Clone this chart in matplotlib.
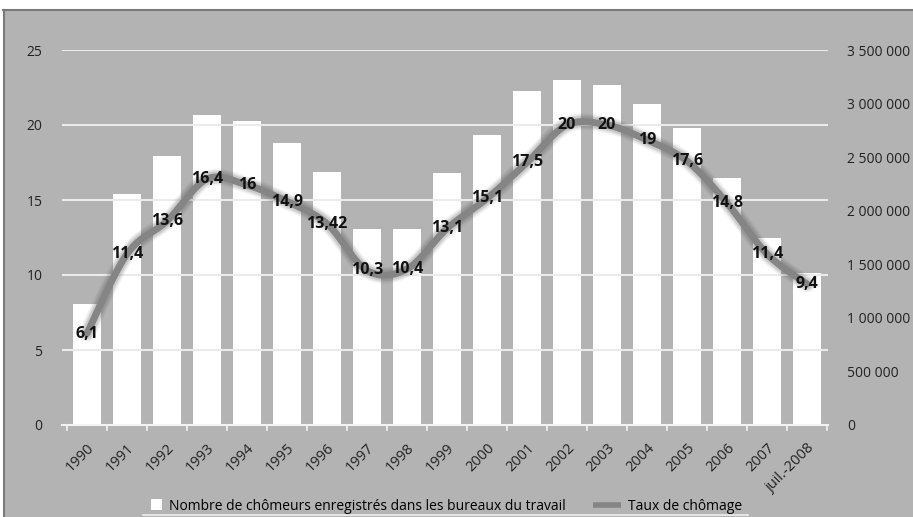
import numpy as np
import matplotlib.pyplot as plt
from matplotlib.lines import Line2D
from matplotlib.patches import Rectangle
from matplotlib.ticker import FuncFormatter
from matplotlib.legend_handler import HandlerPatch

years = ["1990", "1991", "1992", "1993", "1994", "1995", "1996", "1997", "1998", "1999",
         "2000", "2001", "2002", "2003", "2004", "2005", "2006", "2007", "juil.-2008"]
chomeurs = [1126100, 2155600, 2509300, 2889600, 2838000, 2628800, 2359500, 1826400, 1831400,
            2349800, 2702600, 3115100, 3217000, 3175700, 2999600, 2773000, 2309400, 1746600, 1420000]
taux = [6.1, 11.4, 13.6, 16.4, 16, 14.9, 13.42, 10.3, 10.4, 13.1,
        15.1, 17.5, 20, 20, 19, 17.6, 14.8, 11.4, 9.4]
taux_labels = ["6,1", "11,4", "13,6", "16,4", "16", "14,9", "13,42", "10,3", "10,4", "13,1",
               "15,1", "17,5", "20", "20", "19", "17,6", "14,8", "11,4", "9,4"]

bg = "#b3b3b3"
plt.rcParams['font.family'] = ['Open Sans', 'DejaVu Sans']

W, H = 913, 517
fig = plt.figure(figsize=(W / 100, H / 100), dpi=100, facecolor=bg)

# white strip at top and left edge, plus dark border of the panel
fig.add_artist(Rectangle((0, 1 - 9 / H), 1, 9 / H, transform=fig.transFigure, color="white", zorder=0))
fig.add_artist(Rectangle((0, 0), 3 / W, 1, transform=fig.transFigure, color="white", zorder=0))
fig.add_artist(Line2D([3 / W, 1], [1 - 10 / H, 1 - 10 / H], transform=fig.transFigure, color="#7a7a7a", lw=1.5))
fig.add_artist(Line2D([4 / W, 4 / W], [0, 1 - 10 / H], transform=fig.transFigure, color="#7a7a7a", lw=1.5))

ax = fig.add_axes([62 / W, 1 - 425 / H, (828 - 62) / W, (425 - 50) / H])
ax2 = ax.twinx()

x = np.arange(len(years))

# bars on the right axis
ax2.bar(x, chomeurs, width=0.68, color="white", zorder=2)
ax2.set_ylim(0, 3500000)
ax2.set_yticks(np.arange(0, 3500001, 500000))
ax2.yaxis.set_major_formatter(FuncFormatter(lambda v, p: f"{int(v):,}".replace(",", " ")))
ax2.tick_params(axis="y", length=0, pad=14, labelsize=10, labelcolor="#222222")

# gridlines on the left axis
ax.set_ylim(0, 25)
ax.set_yticks([0, 5, 10, 15, 20, 25])
ax.set_xlim(-0.625, len(years) - 0.475)
for v in [5, 10, 15, 20, 25]:
    ax.axhline(v, color="#ebebeb", lw=1.5, zorder=0)
ax.tick_params(axis="y", length=0, pad=14, labelsize=10, labelcolor="#222222")
for a in (ax, ax2):
    for s in a.spines.values():
        s.set_visible(False)
ax.set_zorder(ax2.get_zorder() + 1)
ax.patch.set_visible(False)
ax2.patch.set_visible(False)

# x axis line and ticks at category boundaries
ax.axhline(0, color="#f2f2f2", lw=1.5, zorder=3, clip_on=False)
for b in np.arange(-0.5, len(years), 1.0):
    ax.plot([b, b], [0, -0.35], color="#f2f2f2", lw=1.2, clip_on=False, zorder=3)
ax.set_xticks(x)
ax.set_xticklabels(years, rotation=45, ha="right", rotation_mode="anchor", fontsize=10.5, color="#222222")
ax.tick_params(axis="x", length=0, pad=11)

# smoothed line (Catmull-Rom style as in spreadsheet smoothing)
px = np.array(x, dtype=float)
py = np.array(taux, dtype=float)
ex = np.concatenate([[px[0]], px, [px[-1]]])
ey = np.concatenate([[py[0]], py, [py[-1]]])
cx, cy = [], []
t = np.linspace(0, 1, 30)
for i in range(len(px) - 1):
    p0x, p0y = ex[i + 1], ey[i + 1]
    p1x, p1y = ex[i + 2], ey[i + 2]
    c1x = p0x + (ex[i + 2] - ex[i]) / 6
    c1y = p0y + (ey[i + 2] - ey[i]) / 6
    c2x = p1x - (ex[i + 3] - ex[i + 1]) / 6
    c2y = p1y - (ey[i + 3] - ey[i + 1]) / 6
    bx = (1 - t) ** 3 * p0x + 3 * (1 - t) ** 2 * t * c1x + 3 * (1 - t) * t ** 2 * c2x + t ** 3 * p1x
    by = (1 - t) ** 3 * p0y + 3 * (1 - t) ** 2 * t * c1y + 3 * (1 - t) * t ** 2 * c2y + t ** 3 * p1y
    cx.extend(bx)
    cy.extend(by)

for lw, al in [(12, 0.07), (10, 0.1), (8, 0.16)]:
    ax.plot(cx, cy, color="#555555", lw=lw, alpha=al, solid_capstyle="round", zorder=4)
ax.plot(cx, cy, color="#858585", lw=5, solid_capstyle="round", zorder=5)

for xi, yi, lab in zip(x, taux, taux_labels):
    ax.text(xi, yi, lab, ha="center", va="center", fontsize=11.5, fontweight="bold", color="#111111", zorder=6)


# legend: small white square for the bars, gray stroke for the line
def square_handle(legend, orig_handle, xdescent, ydescent, width, height, fontsize):
    s = 0.8 * fontsize
    return Rectangle((width - xdescent - s, -ydescent + (height - s) / 2), s, s)


h_bar = Rectangle((0, 0), 1, 1, facecolor="white", edgecolor="none")
h_line = Line2D([], [], color="#858585", lw=4, solid_capstyle="butt")
fig.legend([h_bar, h_line],
           ["Nombre de chômeurs enregistrés dans les bureaux du travail", "Taux de chômage"],
           loc="center", bbox_to_anchor=(438 / W, 1 - 506 / H), ncol=2, frameon=False,
           fontsize=10, handlelength=2.0, columnspacing=2.0, handletextpad=0.5,
           handler_map={Rectangle: HandlerPatch(patch_func=square_handle)})
fig.add_artist(Line2D([143 / W, 748 / W], [1 - 515 / H, 1 - 515 / H], transform=fig.transFigure,
                      color="#f0f0f0", lw=1.2))

fig.savefig("out.png", dpi=100, facecolor=bg)
